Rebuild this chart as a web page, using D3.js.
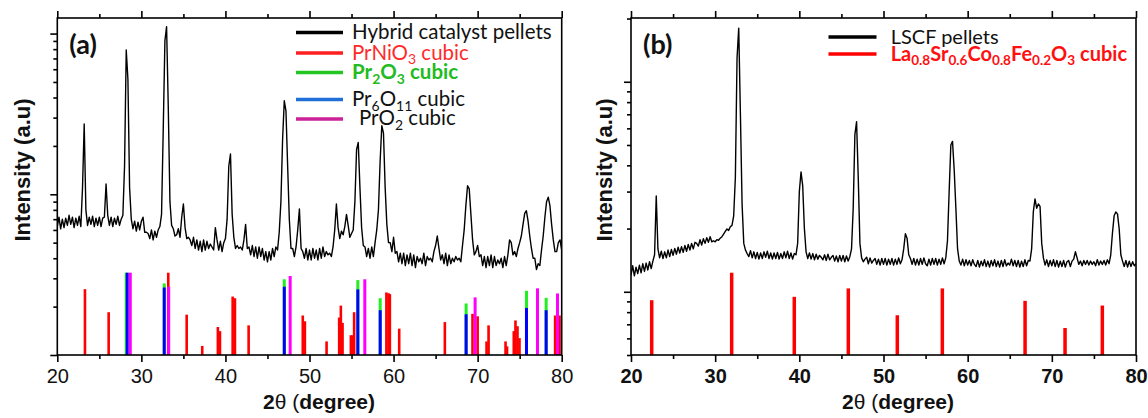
<!DOCTYPE html>
<html><head><meta charset="utf-8">
<script src="https://cdn.jsdelivr.net/npm/d3@7"></script>
<style>body{margin:0;background:#fff}</style>
</head><body>
<svg id="c" width="1148" height="418" xmlns="http://www.w3.org/2000/svg"></svg>
<script>
// ---------- DATA ----------
const xTickLabels = [20, 30, 40, 50, 60, 70, 80];
const xMinorTicks = [25, 35, 45, 55, 65, 75];
const gridStart = 20, gridStep = 0.2;   // 2θ sampling of the measured patterns

// (a) Hybrid catalyst pellets, counts at 20.0, 20.2, ... 80.0
const hybridCounts = [
 63,72,61,70,62,  71,64,74,65,72,  62,71,64,73,63,  110,274,80,64,72,
 65,73,63,71,64,  72,63,71,72,116, 74,64,72,63,71,  65,73,64,70,74,
 150,790,520,110,70, 61,68,59,67,60, 68,72,58,58,57, 53,60,52,59,54,
 60,63,75,250,900, 1104,350,90,64,61, 55,56,61,54,72, 87,62,53,54,52,
 48,54,46,52,45,  51,44,52,45,51,  46,49,47,45,62,  52,45,51,44,50,
 53,70,150,178,75, 54,46,48,46,47,  45,52,65,46,47,  42,48,41,47,40,
 47,41,46,39,44,  38,44,39,46,41,  47,45,58,90,220, 382,330,150,70,46,
 46,41,47,60,81,  46,44,40,46,39,  45,39,46,40,45,  39,46,40,47,41,
 44,42,43,41,47,  60,87,62,53,59,  56,63,75,64,54,  57,60,90,190,210,
 110,62,48,47,41, 46,40,47,41,50,  60,80,160,267,240, 110,65,50,50,44,
 54,43,44,38,43,  37,43,36,42,37,  43,36,42,35,41,  38,40,37,43,36,
 41,39,40,38,44,  48,55,46,39,42,  37,43,36,42,37,  40,38,41,39,40,
 38,48,60,85,113, 108,75,52,42,44, 48,41,42,36,41,  35,41,36,42,35,
 41,36,39,37,40,  35,41,36,42,52,  50,42,44,41,46,  50,55,65,76,79,
 68,55,46,40,40,  34,37,36,45,55,  72,90,96,85,65,  52,44,44,50,52,
 45
];
// (b) LSCF pellets, counts at 20.0, 20.2, ... 80.0
const lscfCounts = [
 120,133,119,131,122, 134,123,136,125,137, 127,139,129,140,150, 286,160,145,156,144,
 155,145,158,147,159, 149,161,151,163,153, 164,154,166,156,168, 158,170,160,172,170,
 165,177,167,179,170, 181,172,183,173,175, 173,177,176,180,183, 188,194,199,196,204,
 207,230,350,1300,1800, 700,260,170,158,152, 147,157,145,155,144, 154,143,153,144,155,
 146,156,144,153,143, 153,144,154,143,152, 144,155,145,156,144, 153,143,152,150,170,
 300,372,320,200,155, 144,153,143,152,142, 151,143,149,146,142, 150,141,151,142,146,
 149,140,148,139,149, 140,149,139,148,140, 147,160,250,560,645, 350,170,145,139,143,
 146,136,145,137,141, 144,135,143,134,144, 135,144,134,143,135, 144,134,143,135,145,
 136,142,160,189,180, 150,144,135,144,134, 143,134,144,135,145, 136,133,143,134,144,
 135,144,134,143,135, 145,136,145,175,300, 500,520,380,250,160, 140,134,143,133,142,
 134,141,133,142,135, 132,141,131,140,133, 142,132,140,131,141, 133,142,132,140,131,
 141,132,142,133,137, 134,143,133,141,132, 141,131,140,132,142, 133,141,140,160,240,
 277,250,262,255,170, 145,134,142,132,141, 133,142,132,141,131, 140,132,141,131,139,
 141,132,140,143,155, 145,135,140,133,141, 135,141,134,140,135, 139,133,142,134,140,
 135,141,134,142,136, 150,190,230,240,235, 200,150,140,132,141, 131,140,132,139,133,
 136
];

// Reference patterns: [2θ, relative intensity %]
const prnio3Sticks = [[23.29,80],[26.11,52],[33.2,100],[35.39,49],[37.24,11],[39.1,34],[39.35,29],
 [40.86,71],[41.13,69],[42.76,36],[49.2,48],[49.45,41],[52.03,16.5],[53.53,45.5],[53.73,60],[53.93,39],
 [54.92,24],[55.12,24],[55.31,52],[59.15,76],[59.4,75],[59.56,74],[60.67,32],[66.1,40],[69.39,50],
 [70.0,47],[71.06,16.5],[71.3,36],[73.32,16.5],[73.5,10.5],[74.3,29],[74.5,42],[74.74,35],[74.98,20.5],
 [79.22,48],[79.74,48]];
const pr2o3Sticks = [[28.2,100],[32.72,87],[47.0,92],[55.75,91],[58.41,69],[68.63,62.6],[75.81,78],[78.15,69.4]];
const pr6o11Sticks = [[28.32,100],[32.72,82],[47.0,83],[55.75,79.7],[58.41,54.4],[68.63,49.5],[75.81,57.2],[78.15,54.4]];
const pro2Sticks = [[28.68,100],[33.25,83],[47.7,96],[56.58,92],[69.7,70],[77.12,81],[79.5,74.8]];
const lscfSticks = [[22.46,66.6],[31.96,100],[39.4,70.7],[45.82,80.9],[51.64,48.3],[56.99,80.9],[66.82,65.8],[71.57,32.8],[76.0,60.1]];

// ---------- DRAWING ----------
const svg = d3.select("#c");
const TOP = 18, BOTTOM = 355, STICK_TOP = 272.7;
const ARIAL = "'Liberation Sans', Arial, sans-serif";
const CAL = "Lato, 'Open Sans', sans-serif";

function rich(sel, parts, size) {
  parts.forEach(p => {
    const t = sel.append("tspan").text(p[0]);
    if (p[1] === "sub") { t.attr("font-size", size * 0.68).attr("dy", size * 0.22); }
    else if (p[1] === "back") { t.attr("dy", -size * 0.22); }
  });
}

function drawPanel(cfg) {
  const g = svg.append("g");
  const x = d3.scaleLinear().domain([20, 80]).range([cfg.left, cfg.right]);
  const y = d3.scaleLog().domain(cfg.yDomain).range([BOTTOM, TOP]);
  const yRel = d3.scaleLinear().domain([0, 100]).range([BOTTOM, STICK_TOP]);

  const clipId = "clip" + cfg.name;
  svg.append("clipPath").attr("id", clipId).append("rect")
    .attr("x", cfg.left).attr("y", TOP).attr("width", cfg.right - cfg.left).attr("height", BOTTOM - TOP);

  // sticks
  cfg.sticks.forEach(s => {
    g.append("g").selectAll("rect").data(s.data).join("rect")
      .attr("x", d => x(d[0]) - s.w / 2).attr("width", s.w)
      .attr("y", d => yRel(d[1])).attr("height", d => BOTTOM - yRel(d[1]))
      .attr("fill", s.color);
  });

  // measured pattern
  const pts = cfg.counts.map((c, i) => [gridStart + i * gridStep, c]);
  g.append("path").datum(pts)
    .attr("clip-path", `url(#${clipId})`)
    .attr("fill", "none").attr("stroke", "#000").attr("stroke-width", 1.4)
    .attr("stroke-linejoin", "round")
    .attr("d", d3.line().x(d => x(d[0])).y(d => y(d[1])));

  // axes
  const sw = 1.6;
  const styleAxis = a => { a.select(".domain").remove(); a.selectAll("line").attr("stroke", "#000").attr("stroke-width", sw); };
  const bx = g.append("g").attr("transform", `translate(0,${BOTTOM})`)
    .call(d3.axisBottom(x).tickValues(xTickLabels).tickSize(7).tickPadding(7).tickFormat(d3.format("d")));
  styleAxis(bx);
  bx.selectAll("text").attr("font-family", ARIAL).attr("font-size", 20)
    .attr("font-weight", cfg.boldTicks ? "bold" : "normal").attr("fill", "#111");
  styleAxis(g.append("g").attr("transform", `translate(0,${BOTTOM})`)
    .call(d3.axisBottom(x).tickValues(xMinorTicks).tickSize(4).tickFormat("")));
  styleAxis(g.append("g").attr("transform", `translate(0,${TOP})`)
    .call(d3.axisTop(x).tickValues(xTickLabels).tickSize(7).tickFormat("")));
  styleAxis(g.append("g").attr("transform", `translate(0,${TOP})`)
    .call(d3.axisTop(x).tickValues(xMinorTicks).tickSize(4).tickFormat("")));
  styleAxis(g.append("g").attr("transform", `translate(${cfg.left},0)`)
    .call(d3.axisLeft(y).tickValues(cfg.yMajor).tickSize(7).tickFormat("")));
  styleAxis(g.append("g").attr("transform", `translate(${cfg.left},0)`)
    .call(d3.axisLeft(y).tickValues(cfg.yMinor).tickSize(4).tickFormat("")));

  // frame
  g.append("rect").attr("x", cfg.left).attr("y", TOP)
    .attr("width", cfg.right - cfg.left).attr("height", BOTTOM - TOP)
    .attr("fill", "none").attr("stroke", "#000").attr("stroke-width", sw);

  // panel label
  g.append("text").attr("x", cfg.left + 12).attr("y", 54).text(cfg.label)
    .attr("font-family", CAL).attr("font-weight", "bold").attr("font-size", 27).attr("fill", "#111");

  // axis titles
  const xt = g.append("text").attr("x", cfg.xTitleX).attr("y", 409).attr("text-anchor", "middle")
    .attr("font-family", ARIAL).attr("font-size", 21).attr("font-weight", "bold").attr("fill", "#111");
  xt.append("tspan").text("2");
  xt.append("tspan").attr("font-weight", "normal").text("θ (");
  xt.append("tspan").text("degree)");
  g.append("text").attr("transform", `translate(${cfg.yTitleX},170) rotate(-90)`)
    .attr("text-anchor", "middle").attr("dominant-baseline", "central")
    .attr("font-family", ARIAL).attr("font-size", 22).attr("font-weight", "bold").attr("fill", "#111")
    .text("Intensity (a.u)");

  // legend
  cfg.legend.forEach(L => {
    g.append("line").attr("x1", cfg.legX1).attr("x2", cfg.legX2).attr("y1", L.y).attr("y2", L.y)
      .attr("stroke", L.line).attr("stroke-width", 3.5);
    const t = g.append("text").attr("x", cfg.legTextX + (L.indent || 0)).attr("y", L.y + 6.5)
      .attr("font-family", CAL).attr("font-size", cfg.legSize).attr("fill", L.color)
      .attr("font-weight", L.bold ? "bold" : "normal");
    rich(t, L.parts, cfg.legSize);
  });
}

drawPanel({
  name: "a", left: 57.3, right: 561.7, yDomain: [10, 1250],
  yMajor: [10, 100, 1000], yMinor: [20,30,40,50,60,70,80,90,200,300,400,500,600,700,800,900],
  counts: hybridCounts, boldTicks: false, label: "(a)", xTitleX: 319, yTitleX: 22,
  sticks: [
    {data: prnio3Sticks, color: "#ff0000", w: 2.6},
    {data: pr2o3Sticks, color: "#22ee22", w: 3},
    {data: pr6o11Sticks, color: "#0000ff", w: 3},
    {data: pro2Sticks, color: "#ff00ff", w: 3}
  ],
  legX1: 296, legX2: 343, legTextX: 352, legSize: 20.5,
  legend: [
    {y: 32.6, line: "#000", color: "#111", parts: [["Hybrid catalyst pellets"]]},
    {y: 53, line: "#ff1f1f", color: "#ff2b2b", parts: [["PrNiO"], ["3", "sub"], [" cubic", "back"]]},
    {y: 72.6, line: "#22c522", color: "#22bb22", bold: true, parts: [["Pr"], ["2", "sub"], ["O", "back"], ["3", "sub"], [" cubic", "back"]]},
    {y: 99.5, line: "#1f6fd6", color: "#111", parts: [["Pr"], ["6", "sub"], ["O", "back"], ["11", "sub"], [" cubic", "back"]]},
    {y: 118.9, line: "#cc2299", color: "#111", indent: 7, parts: [["PrO"], ["2", "sub"], [" cubic", "back"]]}
  ]
});

drawPanel({
  name: "b", left: 631, right: 1136, yDomain: [50, 2012],
  yMajor: [100, 1000], yMinor: [50,60,70,80,90,200,300,400,500,600,700,800,900,2000],
  counts: lscfCounts, boldTicks: true, label: "(b)", xTitleX: 898, yTitleX: 604,
  sticks: [{data: lscfSticks, color: "#ff0000", w: 3.5}],
  legX1: 828.5, legX2: 876.5, legTextX: 890.7, legSize: 20,
  legend: [
    {y: 37, line: "#000", color: "#111", parts: [["LSCF pellets"]]},
    {y: 54, line: "#ff0000", color: "#ff1010", bold: true, parts: [["La"], ["0.8", "sub"], ["Sr", "back"], ["0.6", "sub"], ["Co", "back"], ["0.8", "sub"], ["Fe", "back"], ["0.2", "sub"], ["O", "back"], ["3", "sub"], [" cubic", "back"]]}
  ]
});
</script>
</body></html>
